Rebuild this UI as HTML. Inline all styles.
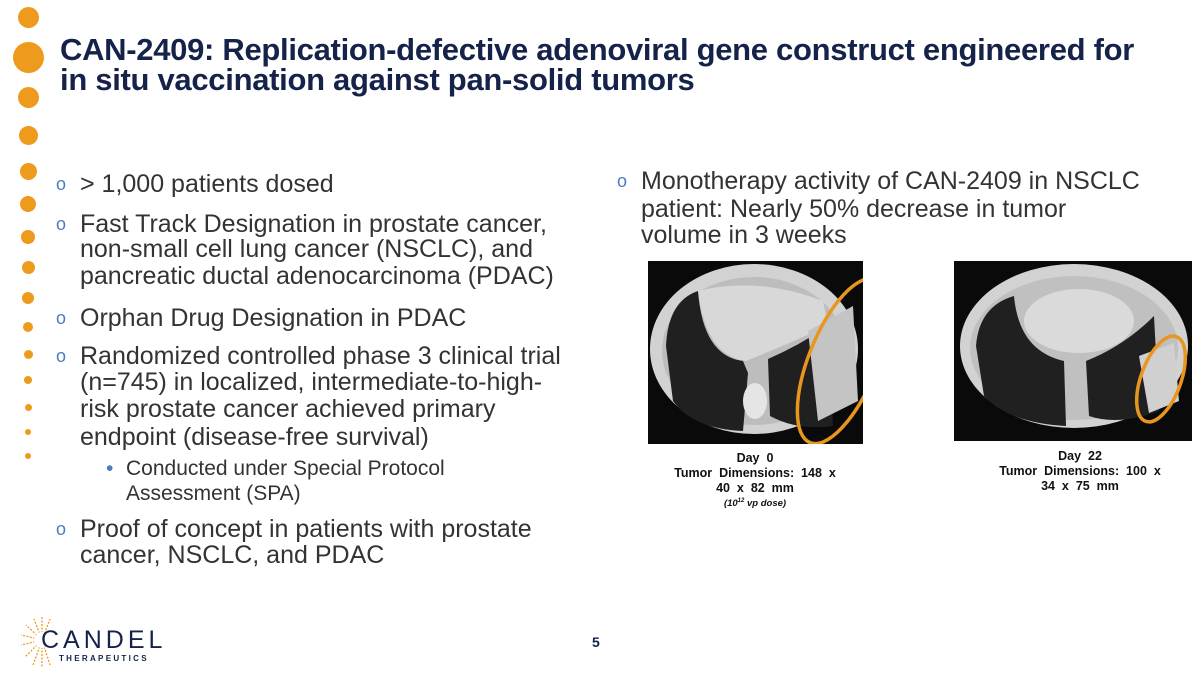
<!DOCTYPE html>
<html><head><meta charset="utf-8"><style>
body{margin:0;width:1200px;height:675px;overflow:hidden;background:#fff;font-family:"Liberation Sans",sans-serif;position:relative}
.d{position:absolute;background:#ee9a1c;border-radius:50%}
h1{position:absolute;left:60px;top:35px;margin:0;font-size:31px;line-height:30px;color:#15224a;font-weight:bold;letter-spacing:-0.3px;white-space:nowrap}
.l{position:absolute;font-size:25px;line-height:27px;color:#333;white-space:nowrap}
.o{position:absolute;font-size:18px;line-height:27px;color:#4a7cc0}
.cap{position:absolute;font-size:12.5px;font-weight:bold;text-align:center;line-height:15px;color:#111}
</style></head><body>
<div class="d" style="left:18px;top:7px;width:21px;height:21px"></div>
<div class="d" style="left:13px;top:42px;width:31px;height:31px"></div>
<div class="d" style="left:18px;top:87px;width:21px;height:21px"></div>
<div class="d" style="left:18.5px;top:125.5px;width:19px;height:19px"></div>
<div class="d" style="left:19.5px;top:162.5px;width:17px;height:17px"></div>
<div class="d" style="left:20px;top:196px;width:16px;height:16px"></div>
<div class="d" style="left:21px;top:230px;width:14px;height:14px"></div>
<div class="d" style="left:21.5px;top:260.5px;width:13px;height:13px"></div>
<div class="d" style="left:22px;top:292px;width:12px;height:12px"></div>
<div class="d" style="left:23px;top:322px;width:10px;height:10px"></div>
<div class="d" style="left:23.5px;top:349.5px;width:9px;height:9px"></div>
<div class="d" style="left:24px;top:376px;width:8px;height:8px"></div>
<div class="d" style="left:24.5px;top:403.5px;width:7px;height:7px"></div>
<div class="d" style="left:25px;top:429px;width:6px;height:6px"></div>
<div class="d" style="left:25px;top:453px;width:6px;height:6px"></div>

<h1>CAN-2409: Replication-defective adenoviral gene construct engineered for<br>in situ vaccination against pan-solid tumors</h1>

<div class="o" style="left:56px;top:171px">o</div><div class="l" style="left:80px;top:171px">&gt; 1,000 patients dosed</div>
<div class="o" style="left:56px;top:211px">o</div><div class="l" style="left:80px;top:211px">Fast Track Designation in prostate cancer,</div>
<div class="l" style="left:80px;top:236px">non-small cell lung cancer (NSCLC), and</div>
<div class="l" style="left:80px;top:263px">pancreatic ductal adenocarcinoma (PDAC)</div>
<div class="o" style="left:56px;top:305px">o</div><div class="l" style="left:80px;top:305px">Orphan Drug Designation in PDAC</div>
<div class="o" style="left:56px;top:343px">o</div><div class="l" style="left:80px;top:343px">Randomized controlled phase 3 clinical trial</div>
<div class="l" style="left:80px;top:369px">(n=745) in localized, intermediate-to-high-</div>
<div class="l" style="left:80px;top:396px">risk prostate cancer achieved primary</div>
<div class="l" style="left:80px;top:424px">endpoint (disease-free survival)</div>
<div class="l" style="left:106px;top:455px;font-size:21px;color:#4a7cc0">•</div>
<div class="l" style="left:126px;top:455px;font-size:21px">Conducted under Special Protocol</div>
<div class="l" style="left:126px;top:480px;font-size:21px">Assessment (SPA)</div>
<div class="o" style="left:56px;top:516px">o</div><div class="l" style="left:80px;top:516px">Proof of concept in patients with prostate</div>
<div class="l" style="left:80px;top:542px">cancer, NSCLC, and PDAC</div>

<div class="o" style="left:617px;top:168px">o</div><div class="l" style="left:641px;top:168px">Monotherapy activity of CAN-2409 in NSCLC</div>
<div class="l" style="left:641px;top:196px">patient: Nearly 50% decrease in tumor</div>
<div class="l" style="left:641px;top:222px">volume in 3 weeks</div>

<svg style="position:absolute;left:648px;top:261px" width="215" height="183" viewBox="0 0 215 183">
<rect width="215" height="183" fill="#0a0a0a"/>
<ellipse cx="106" cy="88" rx="104" ry="85" fill="#d2d2d2"/>
<ellipse cx="106" cy="90" rx="92" ry="74" fill="#bdbdbd"/>
<path d="M18 85 Q20 40 50 30 Q55 95 95 100 L100 112 L95 170 Q45 168 25 140 Z" fill="#202020"/>
<path d="M120 98 Q150 85 180 65 L185 165 Q150 170 122 155 Z" fill="#202020"/>
<path d="M50 30 Q110 15 175 40 L180 65 Q135 85 98 100 Q58 95 50 30Z" fill="#d8d8d8"/>
<ellipse cx="107" cy="140" rx="12" ry="18" fill="#e5e5e5"/>
<path d="M160 70 L205 45 L210 140 L170 160 Z" fill="#c4c4c4"/>
<ellipse cx="195" cy="100" rx="34" ry="88" transform="rotate(22 195 100)" fill="none" stroke="#e8961e" stroke-width="3.5"/>
</svg>
<svg style="position:absolute;left:954px;top:261px" width="238" height="180" viewBox="0 0 238 180">
<rect width="238" height="180" fill="#0a0a0a"/>
<ellipse cx="120" cy="85" rx="114" ry="82" fill="#d2d2d2"/>
<ellipse cx="120" cy="87" rx="104" ry="72" fill="#c0c0c0"/>
<path d="M22 85 Q25 45 60 35 Q65 90 110 100 L112 165 Q55 162 30 135 Z" fill="#202020"/>
<path d="M132 100 Q170 85 200 55 L205 150 Q165 165 135 155 Z" fill="#202020"/>
<ellipse cx="125" cy="60" rx="55" ry="32" fill="#dadada"/>
<path d="M185 95 L220 82 L225 140 L195 152Z" fill="#d0d0d0"/>
<ellipse cx="207" cy="118" rx="20" ry="45" transform="rotate(20 207 118)" fill="none" stroke="#e8961e" stroke-width="3.5"/>
</svg>

<div class="cap" style="left:655px;top:451px;width:200px">Day&nbsp; 0<br>Tumor&nbsp; Dimensions:&nbsp; 148&nbsp; x<br>40&nbsp; x&nbsp; 82&nbsp; mm<br><i style="font-size:9.5px;font-weight:bold;position:relative;top:-2px">(10<sup style="font-size:6px">12</sup> vp dose)</i></div>
<div class="cap" style="left:980px;top:449px;width:200px">Day&nbsp; 22<br>Tumor&nbsp; Dimensions:&nbsp; 100&nbsp; x<br>34&nbsp; x&nbsp; 75&nbsp; mm</div>

<div style="position:absolute;left:592px;top:634px;font-size:14px;font-weight:bold;color:#15224a">5</div>

<svg style="position:absolute;left:20px;top:615px" width="40" height="55" viewBox="0 0 40 55">
<g stroke="#ee9a1c" stroke-width="1.3" stroke-dasharray="2 1.5">
<line x1="22" y1="25" x2="22" y2="2"/><line x1="22" y1="25" x2="30" y2="4"/><line x1="22" y1="25" x2="14" y2="4"/>
<line x1="22" y1="25" x2="6" y2="10"/><line x1="22" y1="25" x2="1" y2="20"/><line x1="22" y1="25" x2="1" y2="30"/>
<line x1="22" y1="25" x2="5" y2="42"/><line x1="22" y1="25" x2="13" y2="50"/><line x1="22" y1="25" x2="22" y2="53"/><line x1="22" y1="25" x2="30" y2="50"/>
</g><circle cx="22" cy="25" r="8" fill="#fff"/></svg>
<div style="position:absolute;left:41px;top:626px;font-size:25px;letter-spacing:4px;color:#15224a">CANDEL</div>
<div style="position:absolute;left:59px;top:654px;font-size:8px;font-weight:bold;letter-spacing:2.3px;color:#15224a">THERAPEUTICS</div>
</body></html>
